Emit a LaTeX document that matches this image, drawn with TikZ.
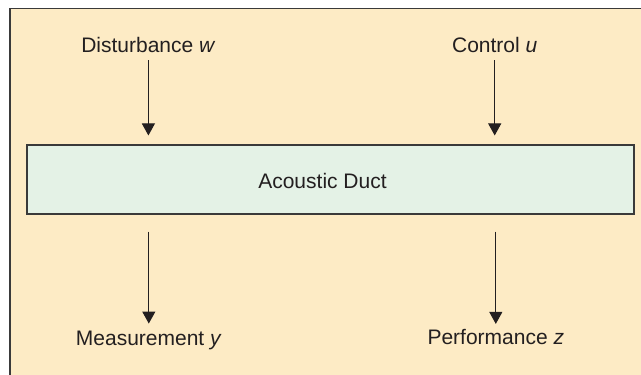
\documentclass[tikz,border=0pt]{standalone}
\usepackage{fontspec}
\setmainfont{Liberation Sans}
\usetikzlibrary{arrows.meta}
\definecolor{outerfill}{HTML}{FDEBC5}
\definecolor{innerfill}{HTML}{E4F2E6}
\definecolor{edge}{HTML}{3A3A3A}
\definecolor{ink}{HTML}{231F20}
\tikzset{
  lbl/.style={inner sep=0pt, text height=11.3pt, text depth=0pt,
    font=\fontsize{15.75pt}{18pt}\selectfont, text=ink},
  ductbox/.style={draw=edge, fill=innerfill, line width=0.8pt,
    minimum width=455.25pt, minimum height=51.75pt, inner sep=0pt},
  arr/.style={draw=ink, line width=0.75pt,
    -{Triangle[width=9.75pt,length=9pt]}}
}
\begin{document}
\begin{tikzpicture}[x=0.75pt,y=-0.75pt]
\useasboundingbox (0,0) rectangle (641,374);
\clip (0,0) rectangle (641,374);
\draw[draw=edge, fill=outerfill, line width=0.9pt] (10,8.5) rectangle (700,420);
\node[ductbox] (duct) at (330.5,179.5) {};
\node[lbl] (ductlbl) at (322.5,180.5) {Acoustic Duct};
\node[lbl] (dist) at (148.4,45.3) {Disturbance \textit{w}};
\node[lbl] (ctrl) at (494.7,45.3) {Control \textit{u}};
\node[lbl] (meas) at (148.8,337.5) {Measurement \textit{y}};
\node[lbl] (perf) at (495.8,336.5) {Performance \textit{z}};
\draw[arr, shorten <=5.25pt, shorten >=6.75pt] (dist.south) -- (dist.south |- duct.north);
\draw[arr, shorten <=5.25pt, shorten >=6.75pt] (ctrl.south) -- (ctrl.south |- duct.north);
\draw[arr, shorten <=12.75pt, shorten >=4.6pt] (meas.north |- duct.south) -- (meas.north);
\draw[arr, shorten <=12.75pt, shorten >=3.6pt] (perf.north |- duct.south) -- (perf.north);
\end{tikzpicture}
\end{document}
